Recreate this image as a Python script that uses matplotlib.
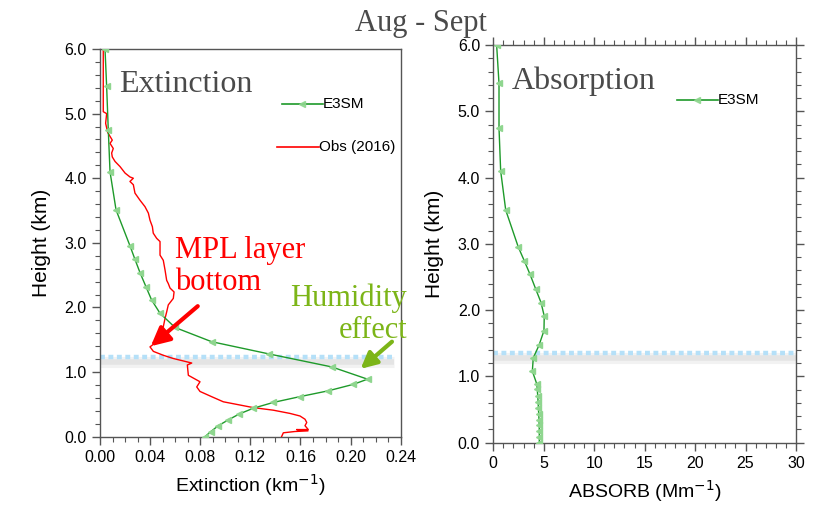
import matplotlib
matplotlib.use("Agg")
import matplotlib.pyplot as plt
from matplotlib.ticker import MultipleLocator
from matplotlib.lines import Line2D

# model levels (km) shared by both E3SM profiles
height = [6.0, 5.42, 4.75, 4.10, 3.51, 2.95, 2.745, 2.54, 2.32, 2.115, 1.91,
          1.69, 1.47, 1.28, 1.08, 0.89, 0.81, 0.71, 0.62, 0.53, 0.44, 0.35,
          0.26, 0.17, 0.08, 0.0]
e3sm_ext = [0.004, 0.0053, 0.0066, 0.008, 0.0128, 0.024, 0.0279, 0.0319,
            0.0367, 0.0412, 0.0479, 0.0599, 0.0891, 0.135, 0.1849, 0.2135,
            0.2022, 0.1822, 0.1596, 0.1383, 0.1223, 0.111, 0.1024, 0.0944,
            0.0885, 0.0838]
e3sm_abs = [0.33, 0.565, 0.565, 0.73, 1.23, 2.48, 3.07, 3.64, 4.20, 4.73,
            5.05, 5.02, 4.53, 3.96, 3.87, 4.30, 4.36, 4.40, 4.44, 4.47, 4.50,
            4.53, 4.55, 4.56, 4.56, 4.56]

# observed extinction (2016)
obs_h = [6.0, 5.03, 5.00, 4.85, 4.71, 4.59, 4.54, 4.46, 4.39, 4.33, 4.26,
         4.18, 4.08, 4.02, 4.00, 3.95, 3.90, 3.77, 3.66, 3.56, 3.46, 3.35,
         3.25, 3.15, 3.07, 3.02, 2.92, 2.81, 2.73, 2.58, 2.42, 2.37, 2.30,
         2.24, 2.14, 2.04, 1.93, 1.83, 1.70, 1.58, 1.45, 1.39, 1.32, 1.26,
         1.21, 1.14, 1.11, 0.95, 0.85, 0.77, 0.70, 0.62, 0.54, 0.49, 0.45,
         0.41, 0.36, 0.32, 0.27, 0.22, 0.17, 0.11, 0.11, 0.09, 0.08, 0.06,
         0.0]
obs_ext = [0.0026, 0.0026, 0.0053, 0.0045, 0.0061, 0.0098, 0.008, 0.0106,
           0.0093, 0.0098, 0.012, 0.016, 0.020, 0.0239, 0.0266, 0.0239,
           0.0266, 0.0279, 0.0319, 0.0359, 0.0386, 0.0399, 0.0418, 0.0425,
           0.0452, 0.0479, 0.0479, 0.0479, 0.0505, 0.0519, 0.0532, 0.0545,
           0.0559, 0.0591, 0.0585, 0.0545, 0.0532, 0.0519, 0.0505, 0.048,
           0.044, 0.0399, 0.0426, 0.0505, 0.0585, 0.0732, 0.0697, 0.0705,
           0.0798, 0.0772, 0.0798, 0.0890, 0.0984, 0.1117, 0.1223, 0.1383,
           0.1516, 0.1596, 0.1636, 0.165, 0.1636, 0.1662, 0.1569, 0.166,
           0.1556, 0.1463, 0.1449]

# highlighted layer heights (km)
layer_ext = 1.24
layer_abs = 1.36

GREEN = "#1e9a2a"
MFACE = "#8fd68f"
SANS = "Liberation Sans"
SERIF = "Liberation Serif"

fig = plt.figure(figsize=(8.17, 5.08), dpi=100)
ax1 = fig.add_axes([0.1224, 0.1404, 0.3681, 0.7631])
ax2 = fig.add_axes([0.6038, 0.1285, 0.3705, 0.7829])


def style_axis(ax, all_sides):
    ax.set_ylim(0, 6)
    ax.yaxis.set_major_locator(MultipleLocator(1.0))
    ax.yaxis.set_minor_locator(MultipleLocator(0.2))
    ax.yaxis.set_major_formatter(lambda v, p: f"{v:.1f}")
    for s in ax.spines.values():
        s.set_color("#555555")
        s.set_linewidth(1.0)
    ax.tick_params(which="both", direction="out", colors="#555555",
                   labelcolor="black", top=all_sides, right=all_sides)
    ax.tick_params(which="major", length=6, width=1.0)
    ax.tick_params(which="minor", length=3.5, width=0.8)
    for lab in ax.get_xticklabels() + ax.get_yticklabels():
        lab.set_fontfamily(SANS)
        lab.set_fontsize(11.5)
    ax.set_ylabel("Height (km)", fontfamily=SANS, fontsize=15, labelpad=10)


def layer_band(ax, h, x0, x1):
    # soft grey shadow under a dotted light-blue line
    ax.plot([x0, x1], [h - 0.08, h - 0.08], color="#999999", lw=8,
            alpha=0.12, solid_capstyle="butt", zorder=1)
    ax.plot([x0, x1], [h - 0.08, h - 0.08], color="#999999", lw=4,
            alpha=0.15, solid_capstyle="butt", zorder=1)
    ax.plot([x0, x1], [h, h], color="#b5e0f8", lw=3.2,
            dashes=(1.1, 0.8), zorder=2)


def legend_line(ax, x0, x1, y, color, label, marker):
    ax.add_line(Line2D([x0, x1], [y, y], transform=ax.transAxes,
                       color=color, lw=1.2))
    if marker:
        ax.add_line(Line2D([(x0 + x1) / 2], [y], transform=ax.transAxes,
                           marker="<", ms=5, mfc=MFACE, mec=MFACE,
                           alpha=0.9, lw=0))
    ax.text(x1, y, label, transform=ax.transAxes, fontfamily=SANS,
            fontsize=11, va="center", ha="left")


# ---- Extinction panel
ax1.plot(e3sm_ext, height, color=GREEN, lw=1.0, marker="<", ms=4.5,
         mfc=MFACE, mec=MFACE, zorder=4)
ax1.plot(obs_ext, obs_h, color="red", lw=1.0, zorder=3)
layer_band(ax1, layer_ext, 0.0, 0.235)
ax1.set_xlim(0, 0.24)
ax1.xaxis.set_major_locator(MultipleLocator(0.04))
ax1.xaxis.set_minor_locator(MultipleLocator(0.01))
ax1.xaxis.set_major_formatter(lambda v, p: f"{v:.2f}")
style_axis(ax1, False)
ax1.set_xlabel("Extinction (km$^{-1}$)", fontfamily=SANS, fontsize=14,
               labelpad=5)
legend_line(ax1, 0.605, 0.74, 0.859, GREEN, "E3SM", True)
legend_line(ax1, 0.588, 0.727, 0.748, "red", "Obs (2016)", False)
ax1.text(0.065, 0.945, "Extinction", transform=ax1.transAxes,
         fontfamily=SERIF, fontsize=23, color="#4a4a4a", va="top")

ax1.annotate("", xy=(0.0405, 1.40), xytext=(0.078, 2.02),
             arrowprops=dict(arrowstyle="-|>", color="red", lw=3,
                             mutation_scale=28, shrinkA=0, shrinkB=0),
             zorder=6)
ax1.annotate("", xy=(0.208, 1.05), xytext=(0.233, 1.47),
             arrowprops=dict(arrowstyle="-|>", color="#7cb518", lw=3,
                             mutation_scale=24, shrinkA=0, shrinkB=0),
             annotation_clip=False, zorder=6)

fig.text(175 / 817, 1 - 290 / 508, "MPL layer\nbottom", fontfamily=SERIF,
         fontsize=22, color="red", va="baseline", ha="left",
         linespacing=1.15)
fig.text(407 / 817, 1 - 338 / 508, "Humidity\neffect", fontfamily=SERIF,
         fontsize=22, color="#7cb518", va="baseline", ha="right",
         multialignment="right", linespacing=1.15)

# ---- Absorption panel
ax2.plot(e3sm_abs, height, color=GREEN, lw=1.0, marker="<", ms=4.5,
         mfc=MFACE, mec=MFACE, zorder=4)
layer_band(ax2, layer_abs, 0.0, 30)
ax2.set_xlim(0, 30)
ax2.xaxis.set_major_locator(MultipleLocator(5))
ax2.xaxis.set_minor_locator(MultipleLocator(1))
style_axis(ax2, True)
ax2.set_xlabel("ABSORB (Mm$^{-1}$)", fontfamily=SANS, fontsize=14,
               labelpad=5)
legend_line(ax2, 0.607, 0.742, 0.862, GREEN, "E3SM", True)
ax2.text(0.06, 0.945, "Absorption", transform=ax2.transAxes,
         fontfamily=SERIF, fontsize=23, color="#4a4a4a", va="top")

fig.text(0.515, 1 - 31 / 508, "Aug - Sept", fontfamily=SERIF, fontsize=22,
         color="#4a4a4a", ha="center", va="baseline")

fig.savefig("out.png", dpi=100)
